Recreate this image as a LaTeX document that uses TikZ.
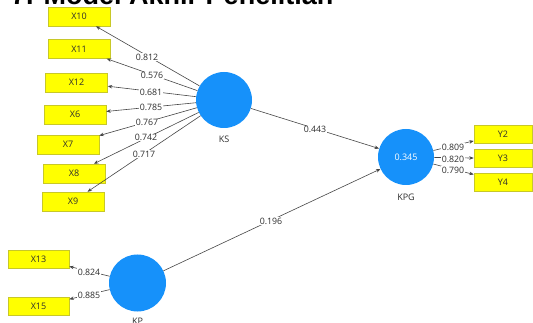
\documentclass[tikz,border=0pt]{standalone}
\usepackage{fontspec}
\setmainfont{Open Sans}
\newfontfamily\titlefont{Liberation Sans}
\usetikzlibrary{arrows.meta}
\definecolor{lvblue}{RGB}{22,145,250}
\definecolor{indyellow}{RGB}{255,255,0}
\definecolor{indedge}{RGB}{200,200,40}
\definecolor{pathgray}{RGB}{70,70,70}
\definecolor{labelgray}{RGB}{45,45,45}
\tikzset{
  latent/.style={circle, fill=lvblue, draw=none, minimum size=56pt, inner sep=0pt},
  indicator/.style={rectangle, fill=indyellow, draw=indedge, line width=0.5pt,
    minimum width=62pt, minimum height=19pt, inner sep=0pt,
    font=\fontsize{9}{10}\selectfont, text=labelgray},
  lvname/.style={font=\fontsize{9}{10}\selectfont, text=labelgray},
  coef/.style={fill=white, inner sep=0.6pt, font=\fontsize{8.8}{10}\selectfont, text=labelgray},
  link/.style={draw=pathgray, line width=0.6pt, -{Stealth[length=4.5pt,width=3.5pt]}}
}
\begin{document}
\begin{tikzpicture}[x=1pt,y=-1pt]
\useasboundingbox (0,0) rectangle (533,323);
\clip (0,0) rectangle (533,323);

% heading, cut by the top edge
\node[anchor=base west, inner sep=0pt, font=\titlefont\bfseries\fontsize{27}{30}\selectfont] (title) at (11,5) {7. Model Akhir Penelitian};

% latent variables
\node[latent] (KS)  at (224,100) {};
\node[latent] (KPG) at (406,157) {\textcolor{white}{\fontsize{9}{10}\selectfont 0.345}};
\node[latent, minimum size=57pt] (KP) at (137.5,283) {};
\node[lvname] (KSname)  at (224,139) {KS};
\node[lvname] (KPGname) at (406,197) {KPG};
\node[lvname] (KPname)  at (137.5,321) {KP};

% indicators of KS
\node[indicator] (X10) at (79,16.5) {X10};
\node[indicator] (X11) at (79,49) {X11};
\node[indicator] (X12) at (76.5,82.5) {X12};
\node[indicator] (X6)  at (75,114.5) {X6};
\node[indicator] (X7)  at (68,144.5) {X7};
\node[indicator] (X8)  at (74,173.5) {X8};
\node[indicator] (X9)  at (73,201.5) {X9};

% indicators of KP
\node[indicator, minimum width=61pt, minimum height=18pt] (X13) at (38.5,259) {X13};
\node[indicator, minimum width=61pt, minimum height=18pt] (X15) at (38.5,306.5) {X15};

% indicators of KPG
\node[indicator, minimum width=58pt, minimum height=18pt] (Y2) at (503,134) {Y2};
\node[indicator, minimum width=58pt, minimum height=18pt] (Y3) at (503,158.5) {Y3};
\node[indicator, minimum width=58pt, minimum height=18pt] (Y4) at (503,182) {Y4};

% outer loadings
\foreach \ind in {X10,X11,X12,X6,X7,X8,X9} \draw[link] (KS) -- (\ind);
\foreach \ind in {X13,X15} \draw[link] (KP) -- (\ind);
\foreach \ind in {Y2,Y3,Y4} \draw[link] (KPG) -- (\ind);

% structural paths
\draw[link] (KS) -- (KPG);
\draw[link] (KP) -- (KPG);

% coefficients
\node[coef] (cX10) at (147,57) {0.812};
\node[coef] (cX11) at (152,75.5) {0.576};
\node[coef] (cX12) at (151,92) {0.681};
\node[coef] (cX6)  at (151,107.5) {0.785};
\node[coef] (cX7)  at (147,122.5) {0.767};
\node[coef] (cX8)  at (146,137.5) {0.742};
\node[coef] (cX9)  at (144,154) {0.717};
\node[coef] (cX13) at (89,272) {0.824};
\node[coef] (cX15) at (89,295) {0.885};
\node[coef] (cY2)  at (453,147) {0.809};
\node[coef] (cY3)  at (453,159) {0.820};
\node[coef] (cY4)  at (453,170) {0.790};
\node[coef] (cKS)  at (315,129.5) {0.443};
\node[coef] (cKP)  at (271,221) {0.196};
\end{tikzpicture}
\end{document}
